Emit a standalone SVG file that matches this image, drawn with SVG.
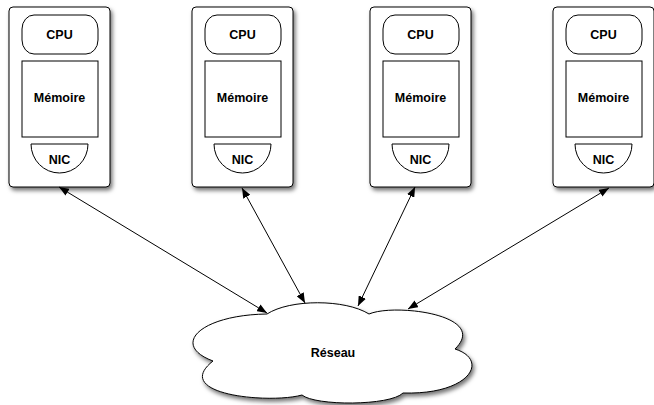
<svg xmlns="http://www.w3.org/2000/svg" width="654" height="405" viewBox="0 0 654 405">
<defs>
<filter id="sh" x="-20%" y="-20%" width="140%" height="140%">
<feDropShadow dx="2" dy="3" stdDeviation="2" flood-color="#000" flood-opacity="0.55"/>
</filter>
<marker id="ah" viewBox="0 0 10 8" refX="10" refY="4" markerWidth="10" markerHeight="8" markerUnits="userSpaceOnUse" orient="auto-start-reverse">
<path d="M0,0 L10,4 L0,8 z" fill="#000"/>
</marker>
<g id="node">
<rect x="0" y="7" width="101" height="180" rx="4" fill="#fff" stroke="#000" stroke-width="1" filter="url(#sh)"/>
<rect x="13" y="15" width="76" height="39" rx="12" ry="14" fill="#fff" stroke="#000" stroke-width="1"/>
<rect x="13" y="61" width="76" height="76" fill="#fff" stroke="#000" stroke-width="1"/>
<path d="M22,144 H79 A28.5,29 0 0 1 22,144 Z" fill="#fff" stroke="#000" stroke-width="1"/>
<text x="50.5" y="39" class="t">CPU</text>
<text x="50.5" y="102" class="t">Mémoire</text>
<text x="50.5" y="164" class="t">NIC</text>
</g>
</defs>
<style>
.t{font-family:"Liberation Sans",Helvetica,Arial,sans-serif;font-weight:bold;font-size:12.5px;text-anchor:middle;fill:#000}
.c{stroke:#000;stroke-width:1;fill:none;marker-start:url(#ah);marker-end:url(#ah)}
</style>
<rect width="654" height="405" fill="#fff"/>
<g id="node1" transform="translate(9,0)"><use href="#node"/></g>
<g id="node2" transform="translate(192,0)"><use href="#node"/></g>
<g id="node3" transform="translate(370,0)"><use href="#node"/></g>
<g id="node4" transform="translate(553,0)"><use href="#node"/></g>
<g id="reseau">
<path d="M267,314 C290,299 345,299 369,314 C395,303 490,315 455,349 C490,360 470,395 403,393 C390,406 315,406 302,395 C270,404 170,395 213,361 C170,345 200,315 267,314 Z" fill="#fff" stroke="#000" stroke-width="1" filter="url(#sh)"/>
<text x="333" y="357" class="t">Réseau</text>
</g>
<g id="connectors">
<line class="c" x1="59" y1="187" x2="267" y2="313"/>
<line class="c" x1="242" y1="188" x2="305" y2="303"/>
<line class="c" x1="415" y1="187" x2="358" y2="306"/>
<line class="c" x1="609" y1="188" x2="408" y2="309"/>
</g>
</svg>
